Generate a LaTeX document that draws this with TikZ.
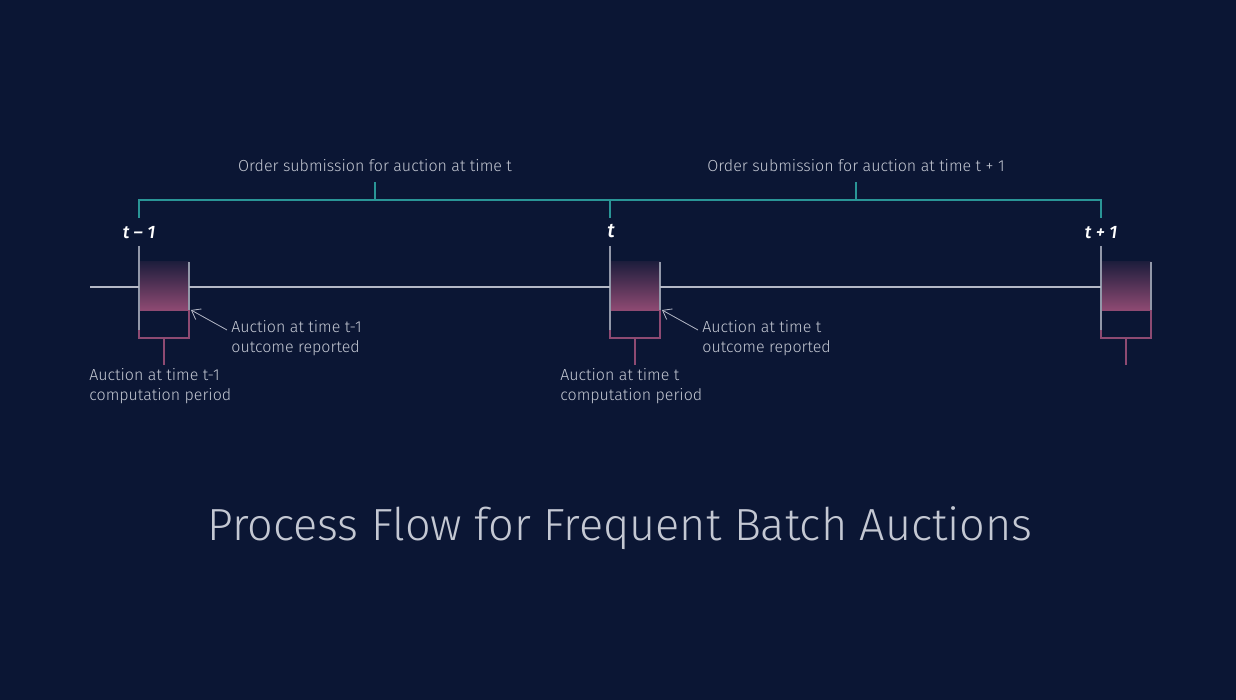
\documentclass[tikz,border=0pt]{standalone}
\usepackage{fontspec}
\setmainfont{Fira Sans Light}
\newfontfamily\tickfont{Fira Sans Medium}
\usetikzlibrary{positioning,arrows.meta}
\definecolor{navy}{HTML}{0B1634}
\definecolor{rose}{HTML}{8E4A72}
\definecolor{brk}{HTML}{2A9596}
\definecolor{axisc}{HTML}{B4B8C6}
\definecolor{txtc}{HTML}{C4C8D3}

\begin{document}
\begin{tikzpicture}[x=0.5pt,y=-0.5pt,
  every node/.style={text=txtc, inner sep=0pt},
  note/.style={align=left, anchor=north west, font=\fontsize{8}{10}\selectfont},
  order/.style={font=\fontsize{8}{10}\selectfont},
  timelbl/.style={text=white, font=\tickfont\itshape\fontsize{9}{10}\selectfont},
  axis/.style={draw=axisc, line width=0.7pt},
  tickline/.style={draw=axisc!80!navy, line width=0.7pt},
  bracket/.style={draw=brk, line width=0.9pt},
  period/.style={draw=rose, line width=0.8pt},
  pointer/.style={draw=axisc, line width=0.4pt, -{Straight Barb[length=4pt,width=6pt]}}]
  \fill[navy] (0,0) rectangle (1236,700);

  \coordinate (start) at (90,287);
  \foreach \n/\x in {a/139,b/610,c/1101} {
    \coordinate (\n) at (\x,287);
    \coordinate (\n-r) at (\x+50,287);
    \coordinate (\n-top) at (\x,218);
    \coordinate (\n-brk) at (\x,200);
    \coordinate (\n-bot) at (\x+25,338);
    \coordinate (\n-out) at (\x+52,310);
    \shade[top color=rose!15!navy, middle color=rose!72!navy, bottom color=rose] (\x,262) rectangle (\x+50,310);
    \draw[tickline] (\x,246) -- (\x,330);
    \draw[tickline] (\x+50,262) -- (\x+50,310);
    \draw[period] (\x,330) -- (\x,338) -- (\x+50,338) -- (\x+50,310);
  }
  \draw[axis] (start) -- (a);
  \draw[axis] (a-r) -- (b);
  \draw[axis] (b-r) -- (c);

  \draw[bracket] (a-top) -- (a-brk) -- (c-brk) -- (c-top);
  \draw[bracket] (b-top) -- (b-brk);
  \node[order] (ordA) at (375,166) {Order submission for auction at time t};
  \node[order] (ordB) at (856,166) {Order submission for auction at time t + 1};
  \draw[bracket] (ordA |- a-brk) -- ++(0,-18);
  \draw[bracket] (ordB |- a-brk) -- ++(0,-18);

  \node[timelbl] (la) at (139,233) {t – 1};
  \node[timelbl, font=\tickfont\itshape\fontsize{10}{10}\selectfont] (lb) at (611,231) {t};
  \node[timelbl] (lc) at (1101,233) {t + 1};

  \node[note] (outA) at (231,320) {Auction at time t-1\\outcome reported};
  \node[note] (compA) at (89,368) {Auction at time t-1\\computation period};
  \node[note] (outB) at (702,320) {Auction at time t\\outcome reported};
  \node[note] (compB) at (560,368) {Auction at time t\\computation period};

  \draw[pointer] ([shift={(-4,10)}]outA.north west) -- (a-out);
  \draw[pointer] ([shift={(-4,10)}]outB.north west) -- (b-out);
  \draw[period] (a-bot) -- ++(0,27);
  \draw[period] (b-bot) -- ++(0,27);
  \draw[period] (c-bot) -- ++(0,27);

  \node[font=\fontsize{22.5}{26}\selectfont] (title) at (620,528) {Process Flow for Frequent Batch Auctions};
\end{tikzpicture}
\end{document}
